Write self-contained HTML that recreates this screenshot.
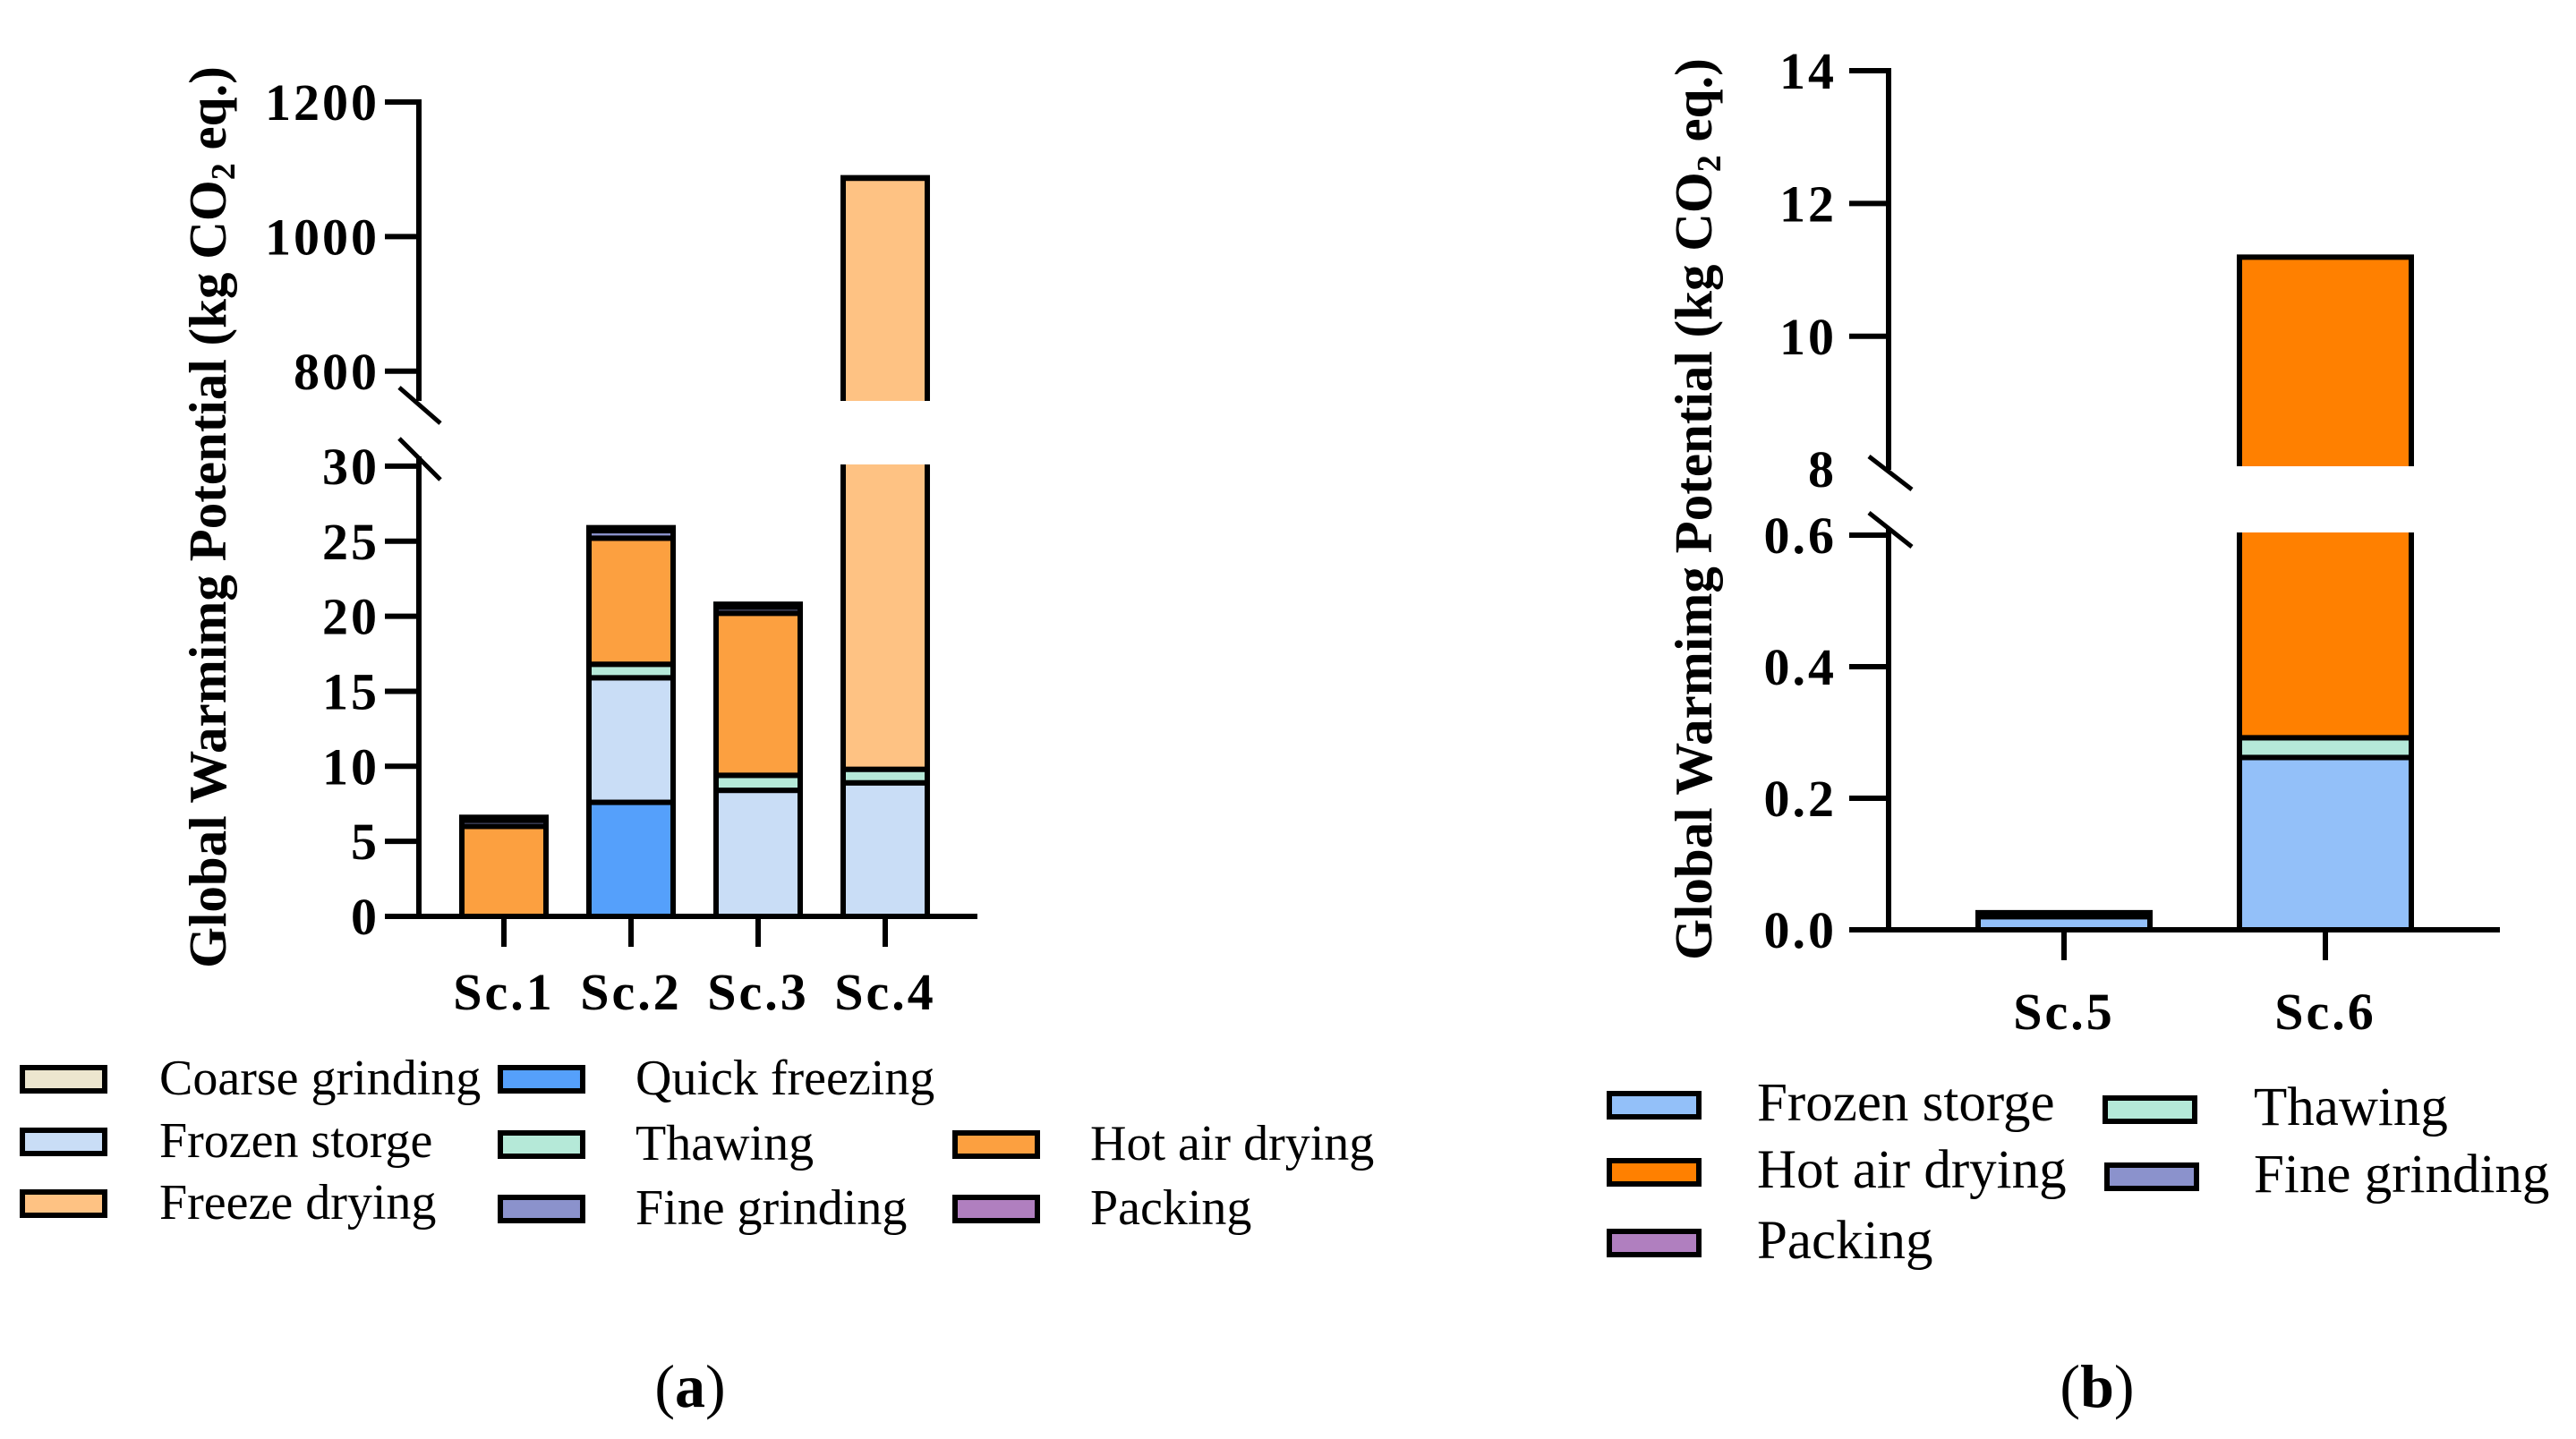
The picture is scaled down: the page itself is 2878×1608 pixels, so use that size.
<!DOCTYPE html>
<html><head><meta charset="utf-8"><style>
body{margin:0;background:#fff}
svg{display:block}
text{font-family:"Liberation Serif",serif}
.tk{font-weight:bold;font-size:58px;letter-spacing:3px}
.lg{font-size:56px}
.lgb{font-size:61px}
</style></head><body>
<svg id="c" width="2878" height="1608" viewBox="0 0 2878 1608">
<defs>
<clipPath id="aLow"><rect x="0" y="519" width="1400" height="600"/></clipPath>
<clipPath id="aUp"><rect x="0" y="0" width="1400" height="448"/></clipPath>
<clipPath id="bLow"><rect x="1500" y="595" width="1378" height="600"/></clipPath>
<clipPath id="bUp"><rect x="1500" y="0" width="1378" height="521"/></clipPath>
</defs>
<g id="pa"></g>
<g id="pb"></g>
<text x="252" y="578" transform="rotate(-90 252 578)" text-anchor="middle" font-weight="bold" font-size="59">Global Warmimg Potential (kg CO<tspan font-size="38" dy="10">2</tspan><tspan dy="-10"> eq.)</tspan></text>
<text x="1912" y="569" transform="rotate(-90 1912 569)" text-anchor="middle" font-weight="bold" font-size="59">Global Warmimg Potential (kg CO<tspan font-size="38" dy="10">2</tspan><tspan dy="-10"> eq.)</tspan></text>
<text x="771" y="1572" text-anchor="middle" font-size="68">(<tspan font-weight="bold">a</tspan>)</text>
<text x="2343" y="1572" text-anchor="middle" font-size="68">(<tspan font-weight="bold">b</tspan>)</text>
</svg>
<script>
const NS="http://www.w3.org/2000/svg";
// Panel A data
const catsA=["Sc.1","Sc.2","Sc.3","Sc.4"];
const stagesA=["Coarse grinding","Quick freezing","Frozen storge","Thawing","Hot air drying","Freeze drying","Fine grinding","Packing"];
const colorsA=["#ece6cf","#55a0fb","#c9ddf6","#b5e9d8","#fca040","#fec283","#8b92cc","#b07fbf"];
const coarseA=[0,0,0,0];
const quickA=[0,7.6,0,0];
const frozenA=[0,8.3,8.4,8.9];
const thawA=[0,0.9,1.0,0.9];
const hotA=[6.0,8.4,10.8,0];
const freezeA=[0,0,0,1077];
const fineA=[0.4,0.5,0.4,0.4];
const packA=[0.2,0.2,0.2,0.2];
const lowTicksA=[0,5,10,15,20,25,30];
const upTicksA=[800,1000,1200];
// Panel B data
const catsB=["Sc.5","Sc.6"];
const stagesB=["Frozen storge","Thawing","Hot air drying","Fine grinding","Packing"];
const colorsB=["#93c0f9","#b5e9d8","#ff8000","#8b92cc","#b07fbf"];
const frozenB=[0.02,0.262];
const thawB=[0,0.03];
const hotB=[0,10.9];
const fineB=[0.004,0];
const packB=[0.002,0];
const lowTicksB=["0.0","0.2","0.4","0.6"];
const upTicksB=[8,10,12,14];

function el(p,tag,at){const e=document.createElementNS(NS,tag);for(const k in at)e.setAttribute(k,at[k]);p.appendChild(e);return e;}
function line(p,x1,y1,x2,y2,w){return el(p,"line",{x1,y1,x2,y2,stroke:"#000","stroke-width":w||6});}

function panel(g,o){
  const {cats,series,colors,xs,bw,yL,yU,lowMax,upMin,lowTicks,upTicks,ax,x0,x1,y0,axTop,breakTop,breakBot,cl,cu,slashes,labX,labY}=o;
  cats.forEach((c,i)=>{
    let base=0;
    series.forEach((s,k)=>{
      const v=s[i]; if(!v){return;}
      const a=base,b=base+v; base=b;
      const lo1=Math.max(a,0),hi1=Math.min(b,lowMax*1.07);
      if(hi1>lo1){
        const r=el(g,"rect",{x:xs(i)-bw/2,y:yL(hi1),width:bw,height:yL(lo1)-yL(hi1),fill:colors[k],stroke:"#000","stroke-width":6,"clip-path":"url(#"+cl+")"});
        
        
      }
      const lo2=Math.max(a,upMin*0.93),hi2=b;
      if(hi2>upMin){
        const r=el(g,"rect",{x:xs(i)-bw/2,y:yU(hi2),width:bw,height:yU(lo2)-yU(hi2),fill:colors[k],stroke:"#000","stroke-width":6,"clip-path":"url(#"+cu+")"});
        
        
      }
    });
    const t=line(g,xs(i),y0,xs(i),y0+34);
    
    
    const tx=el(g,"text",{x:xs(i),y:labY,"text-anchor":"middle","class":"tk"});
    tx.textContent=c;
    
    
  });
  line(g,x0,y0,x1,y0);
  line(g,ax,axTop-3,ax,breakTop);
  line(g,ax,breakBot,ax,y0+3);
  slashes.forEach(s=>line(g,s[0],s[1],s[2],s[3],5));
  lowTicks.forEach(t=>{const y=yL(+t);line(g,x0,y,ax,y);
    const tx=el(g,"text",{x:labX,y:y+20,"text-anchor":"end","class":"tk"});tx.textContent=t;
    
    });
  upTicks.forEach((t,j)=>{const y=yU(+t);if(!(o.skipFirstUpTick&&j==0))line(g,x0,y,ax,y);
    const tx=el(g,"text",{x:labX,y:y+20,"text-anchor":"end","class":"tk"});tx.textContent=t;
    
    });
}

panel(document.getElementById("pa"),{
  cats:catsA,series:[coarseA,quickA,frozenA,thawA,hotA,freezeA,fineA,packA],colors:colorsA,
  xs:i=>563+i*142,bw:94,yL:v=>1024-v*16.77,yU:v=>114+(1200-v)*0.752,lowMax:30,upMin:756,
  lowTicks:lowTicksA,upTicks:upTicksA,ax:468,x0:430,x1:1092,y0:1024,axTop:114,breakTop:448,breakBot:510,
  cl:"aLow",cu:"aUp",slashes:[[446,433,492,473],[446,490,492,536]],labX:424,labY:1128
});
panel(document.getElementById("pb"),{
  cats:catsB,series:[frozenB,thawB,hotB,fineB,packB],colors:colorsB,
  xs:i=>2306+i*292,bw:192,yL:v=>1039-v*735,yU:v=>79+(14-v)*74.2,lowMax:0.6,upMin:8.05,
  lowTicks:lowTicksB,upTicks:upTicksB,ax:2110,x0:2066,x1:2793,y0:1039,axTop:79,breakTop:525,breakBot:590,
  cl:"bLow",cu:"bUp",slashes:[[2088,510,2136,547],[2088,573,2136,611]],labX:2052,labY:1150,skipFirstUpTick:true
});

function legend(items,cls,id){
  const g=el(document.getElementById("c"),"g",{});
  
  
  items.forEach(it=>{
    const e=el(g,"g",{});
    
    
    el(e,"rect",{x:it[2],y:it[3]-13,width:it[4],height:26,fill:it[1],stroke:"#000","stroke-width":6});
    const t=el(e,"text",{x:it[5],y:it[3]+17,"class":cls});t.textContent=it[0];
  });
}
legend([
 ["Coarse grinding",colorsA[0],25,1206,92,178],
 ["Quick freezing",colorsA[1],559,1206,92,710],
 ["Frozen storge",colorsA[2],25,1276,92,178],
 ["Thawing",colorsA[3],559,1279,92,710],
 ["Hot air drying",colorsA[4],1067,1279,92,1218],
 ["Freeze drying",colorsA[5],25,1345,92,178],
 ["Fine grinding",colorsA[6],559,1351,92,710],
 ["Packing",colorsA[7],1067,1351,92,1218]
],"lg","legend-a");
legend([
 ["Frozen storge",colorsB[0],1798,1235,100,1963],
 ["Thawing",colorsB[1],2352,1240,100,2518],
 ["Hot air drying",colorsB[2],1798,1310,100,1963],
 ["Fine grinding",colorsB[3],2354,1315,100,2518],
 ["Packing",colorsB[4],1798,1389,100,1963]
],"lgb","legend-b");
</script>
</body></html>
